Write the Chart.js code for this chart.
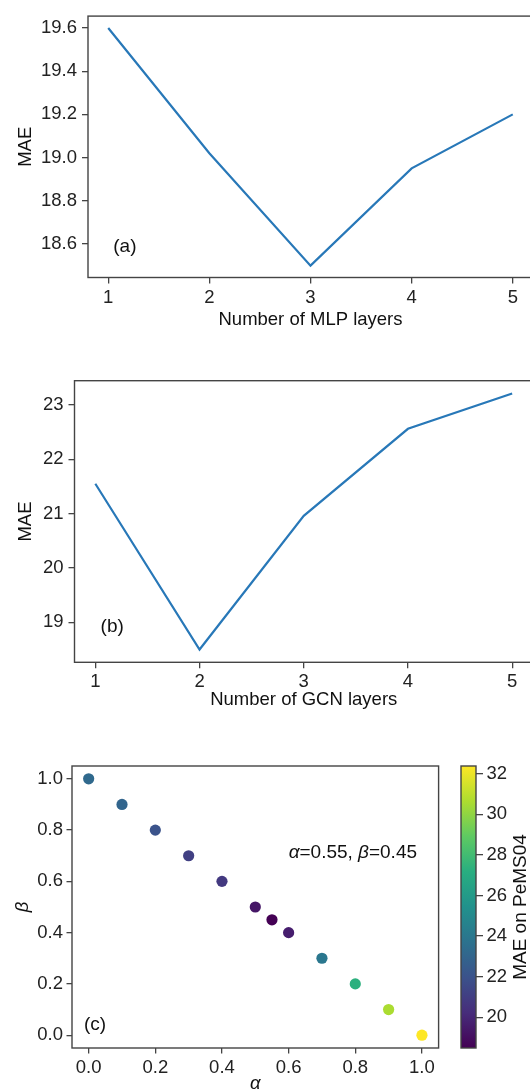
<!DOCTYPE html>
<html>
<head>
<meta charset="utf-8">
<script src="https://cdn.jsdelivr.net/npm/chart.js@4.4.0/dist/chart.umd.min.js"></script>
<style>
  html, body { margin: 0; padding: 0; background: #fff; overflow: hidden; }
  body { width: 530px; height: 1091px; position: relative; }
  .panel { position: absolute; }
</style>
</head>
<body>
<div class="panel" style="left:0;top:0;width:536px;height:340px"><canvas id="chartA"></canvas></div>
<div class="panel" style="left:0;top:340px;width:536px;height:380px"><canvas id="chartB"></canvas></div>
<div class="panel" style="left:0;top:720px;width:530px;height:380px"><canvas id="chartC"></canvas></div>
<div class="panel" style="left:440px;top:720px;width:100px;height:380px"><canvas id="colorbar"></canvas></div>
<script>
// panel (a)
var mlpLayers = [1, 2, 3, 4, 5];
var maeMlp = [19.6, 19.02, 18.5, 18.95, 19.2];
// panel (b)
var gcnLayers = [1, 2, 3, 4, 5];
var maeGcn = [21.55, 18.5, 20.96, 22.56, 23.21];
// panel (c)
var alphas = [0.0, 0.1, 0.2, 0.3, 0.4, 0.5, 0.55, 0.6, 0.7, 0.8, 0.9, 1.0];
var betas = [1.0, 0.9, 0.8, 0.7, 0.6, 0.5, 0.45, 0.4, 0.3, 0.2, 0.1, 0.0];
var maePems = [23.2, 23.0, 22.0, 21.1, 20.8, 19.3, 18.49, 19.6, 24.0, 27.3, 30.6, 32.37];

var layerTicks = [1, 2, 3, 4, 5];
var mlpTicks = [18.6, 18.8, 19.0, 19.2, 19.4, 19.6];
var gcnTicks = [19, 20, 21, 22, 23];
var weightTicks = [0, 0.2, 0.4, 0.6, 0.8, 1.0];
var cbarTicks = [20, 22, 24, 26, 28, 30, 32];

var FONT = "'Liberation Sans', Arial, sans-serif";
var INK = '#222';
var SPINE = '#444';
var LINE = '#2878b8';

// viridis colormap stops
var viridis = ['#440154', '#472d7b', '#3b528b', '#2c728e', '#21918c', '#28ae80', '#5ec962', '#addc30', '#fde725'];

function hexRgb(h) {
  return [parseInt(h.substr(1, 2), 16), parseInt(h.substr(3, 2), 16), parseInt(h.substr(5, 2), 16)];
}
function viridisAt(t) {
  t = Math.max(0, Math.min(1, t));
  var f = t * (viridis.length - 1), i = Math.min(Math.floor(f), viridis.length - 2), r = f - i;
  var a = hexRgb(viridis[i]), b = hexRgb(viridis[i + 1]);
  return 'rgb(' + [0, 1, 2].map(function (k) { return Math.round(a[k] + (b[k] - a[k]) * r); }).join(',') + ')';
}

var cMin = Math.min.apply(null, maePems), cMax = Math.max.apply(null, maePems);

// matplotlib style 5% margins
function padRange(vals) {
  var lo = Math.min.apply(null, vals), hi = Math.max.apply(null, vals), m = (hi - lo) * 0.05;
  return [lo - m, hi + m];
}

function setTicks(list) { return function (s) { s.ticks = list.map(function (v) { return { value: v }; }); }; }
function fixWidth(w) { return function (s) { s.width = w; }; }
function fixHeight(h) { return function (s) { s.height = h; }; }

var framePlugin = {
  id: 'frame',
  afterDatasetsDraw: function (chart) {
    var a = chart.chartArea, ctx = chart.ctx;
    ctx.save();
    ctx.strokeStyle = SPINE;
    ctx.lineWidth = 1.4;
    ctx.strokeRect(a.left, a.top, a.right - a.left, a.bottom - a.top);
    ctx.restore();
  }
};

function notes(items) {
  return {
    id: 'notes',
    afterDatasetsDraw: function (chart) {
      var ctx = chart.ctx, xs = chart.scales.x, ys = chart.scales.y;
      items.forEach(function (it) {
        var px = xs.getPixelForValue(it.x), py = ys.getPixelForValue(it.y);
        ctx.save();
        ctx.fillStyle = '#111';
        ctx.textBaseline = 'middle';
        ctx.textAlign = 'left';
        it.parts.forEach(function (p) {
          ctx.font = (p[1] ? 'italic ' : '') + it.size + 'px ' + FONT;
          ctx.fillText(p[0], px, py);
          px += ctx.measureText(p[0]).width;
        });
        ctx.restore();
      });
    }
  };
}

function axis(o) {
  return {
    type: 'linear',
    position: o.position,
    min: o.range[0],
    max: o.range[1],
    afterBuildTicks: setTicks(o.ticks),
    afterFit: o.width ? fixWidth(o.width) : fixHeight(o.height),
    border: { display: false },
    grid: { drawOnChartArea: false, drawTicks: true, tickLength: o.tickLength || 6, color: SPINE, lineWidth: 1.3 },
    ticks: {
      padding: o.tickPad, color: INK, font: { family: FONT, size: 18.5 },
      callback: function (v) { return v.toFixed(o.decimals); }
    },
    title: {
      display: !!o.title, text: o.title, color: '#111',
      font: { family: FONT, size: 18.5, style: o.italic ? 'italic' : 'normal' },
      padding: o.titlePad
    }
  };
}

function linePanel(id, xs, ys, yTicks, yDec, xTitle, yWidth, xHeight, padTop, tag) {
  new Chart(document.getElementById(id), {
    type: 'line',
    data: {
      datasets: [{
        data: xs.map(function (x, i) { return { x: x, y: ys[i] }; }),
        borderColor: LINE, borderWidth: 2.2, pointRadius: 0, tension: 0, fill: false
      }]
    },
    options: {
      responsive: true, maintainAspectRatio: false, animation: false,
      layout: { padding: { top: padTop, right: 3, left: 0, bottom: 0 } },
      plugins: { legend: { display: false }, tooltip: { enabled: false } },
      scales: {
        x: axis({ position: 'bottom', range: padRange(xs), ticks: layerTicks, decimals: 0, height: xHeight,
                  tickPad: 3, title: xTitle, titlePad: { top: 0, bottom: 9 } }),
        y: axis({ position: 'left', range: padRange(ys), ticks: yTicks, decimals: yDec, width: yWidth,
                  tickPad: 5, title: 'MAE', titlePad: { top: 15, bottom: 0 } })
      }
    },
    plugins: [framePlugin, notes([{ x: 1.05, y: tag[1], size: 19, parts: [[tag[0], false]] }])]
  });
}

linePanel('chartA', mlpLayers, maeMlp, mlpTicks, 1, 'Number of MLP layers', 88, 62.5, 5, ['(a)', 18.587]);
linePanel('chartB', gcnLayers, maeGcn, gcnTicks, 0, 'Number of GCN layers', 74.5, 57.7, 40.7, ['(b)', 18.91]);

new Chart(document.getElementById('chartC'), {
  type: 'scatter',
  data: {
    datasets: [{
      data: alphas.map(function (a, i) { return { x: a, y: betas[i] }; }),
      backgroundColor: maePems.map(function (v) { return viridisAt((v - cMin) / (cMax - cMin)); }),
      borderColor: maePems.map(function (v) { return viridisAt((v - cMin) / (cMax - cMin)); }),
      borderWidth: 0, pointRadius: 5.6, pointHoverRadius: 5.6
    }]
  },
  options: {
    responsive: true, maintainAspectRatio: false, animation: false,
    layout: { padding: { top: 46, right: 91.4, left: 0, bottom: 0 } },
    plugins: { legend: { display: false }, tooltip: { enabled: false } },
    scales: {
      x: axis({ position: 'bottom', range: padRange(alphas), ticks: weightTicks, decimals: 1, height: 52,
                tickLength: 5.5, tickPad: 3, title: 'α', italic: true, titlePad: { top: 0, bottom: 5 } }),
      y: axis({ position: 'left', range: padRange(betas), ticks: weightTicks, decimals: 1, width: 72,
                tickLength: 5.5, tickPad: 3.5, title: 'β', italic: true, titlePad: { top: 12, bottom: 0 } })
    }
  },
  plugins: [framePlugin, notes([
    { x: 0.6, y: 0.71, size: 19, parts: [['α', true], ['=0.55, ', false], ['β', true], ['=0.45', false]] },
    { x: -0.014, y: 0.039, size: 19, parts: [['(c)', false]] }
  ])]
});

var colorbarPlugin = {
  id: 'colorbarFill',
  beforeDatasetsDraw: function (chart) {
    var a = chart.chartArea, ctx = chart.ctx;
    var g = ctx.createLinearGradient(0, a.bottom, 0, a.top);
    viridis.forEach(function (c, i) { g.addColorStop(i / (viridis.length - 1), c); });
    ctx.save();
    ctx.fillStyle = g;
    ctx.fillRect(a.left, a.top, a.right - a.left, a.bottom - a.top);
    ctx.restore();
  },
  afterDraw: function (chart) {
    var a = chart.chartArea, ctx = chart.ctx;
    ctx.save();
    ctx.translate(81, (a.top + a.bottom) / 2);
    ctx.rotate(-Math.PI / 2);
    ctx.fillStyle = '#111';
    ctx.font = '19px ' + FONT;
    ctx.textAlign = 'center';
    ctx.textBaseline = 'middle';
    ctx.fillText('MAE on PeMS04', 0, 0);
    ctx.restore();
  }
};

new Chart(document.getElementById('colorbar'), {
  type: 'scatter',
  data: { datasets: [{ data: [] }] },
  options: {
    responsive: true, maintainAspectRatio: false, animation: false,
    layout: { padding: { top: 46, right: 0, left: 21, bottom: 52 } },
    plugins: { legend: { display: false }, tooltip: { enabled: false } },
    scales: {
      x: { display: false, min: 0, max: 1 },
      y: axis({ position: 'right', range: [cMin, cMax], ticks: cbarTicks, decimals: 0, width: 64,
                tickLength: 7, tickPad: 3.5 })
    }
  },
  plugins: [colorbarPlugin, framePlugin]
});
</script>
</body>
</html>
